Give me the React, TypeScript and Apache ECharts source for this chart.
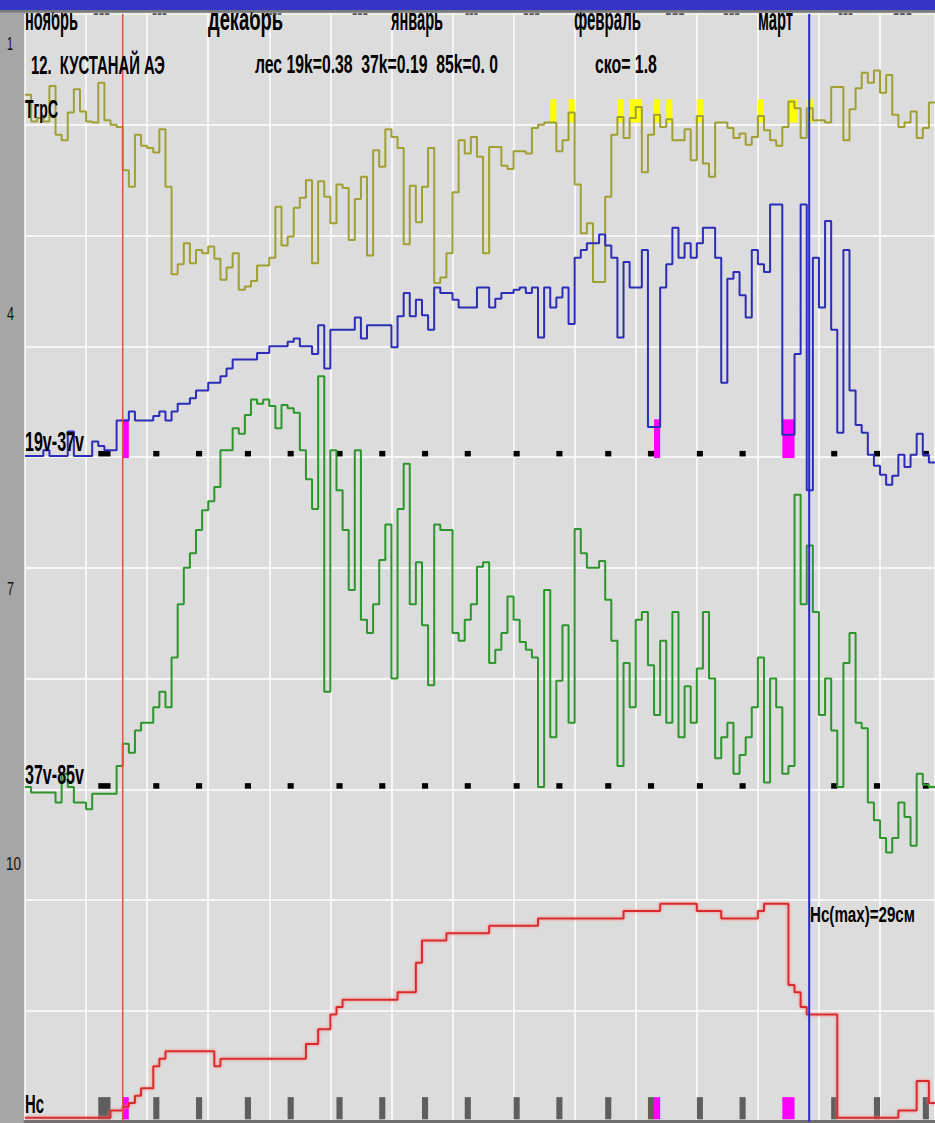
import React, { useEffect, useRef } from 'react';
import * as echarts from 'echarts';

// ---- data (one value per day, day 0 = 1 Nov, 10 days per grid column) ----
const monthLabels = ['ноябрь', 'декабрь', 'январь', 'февраль', 'март'];
const rowLabels = ['1', '4', '7', '10'];

// soil temperature, °C
const tempC = [
  2.7, 0.3, 0.6, 0.3, 3.5, -0.9, -1.4, 1.1, 3.2, 1.2,
  0.3, 0.2, 3.8, 0.4, 0, -0.2, -4.1, -5.6, -0.9, -1.9,
  -2.1, -2.5, -0.4, -5.6, -13.5, -12.6, -10.7, -12.5, -11.3, -11.6,
  -11.0, -12.1, -14.0, -12.9, -11.6, -14.9, -14.6, -14.1, -12.7, -12.7,
  -12.0, -7.4, -10.9, -10.1, -7.5, -6.6, -5.0, -12.5, -5.1, -6.5,
  -8.9, -5.4, -5.7, -10.4, -6.7, -4.7, -11.8, -2.3, -3.8, -0.4,
  -1.1, -2.1, -10.8, -5.5, -8.8, -5.6, -2.1, -14.3, -13.8, -11.6,
  -6.1, -1.4, -2.6, -1.1, -2.9, -11.6, -2.0, -2.0, -3.7, -4.0,
  -2.4, -2.4, -2.6, -0.3, 0, 0.2, 0.2, -2.4, -1.4, 1.1,
  -5.4, -9.8, -8.9, -14.2, -14.2, -6.5, -0.9, 0.7, -1.2, 0.6,
  1.6, -4.3, -0.9, 0.9, -0.2, 0.5, -1.4, -1.4, -0.4, -3.2,
  0.8, -3.5, -4.7, 0.2, 0.2, -0.3, -1.2, -0.8, -1.8, -1.1,
  0.8, -0.5, -1.4, -1.9, -0.2, 2.1, 1.5, -1.2, 1.5, 0.4,
  0.4, 0.2, 3.4, 3.4, -1.4, 1.4, 3.3, 4.7, 3.8, 4.9,
  2.9, 4.5, 0.9, -0.2, 0.2, 1.2, -1.2, -0.3, 2.0,
];

// Tb 19V - 37V, K
const diff19v37v = [
  0.1, 0.1, 0.1, 0.6, 0.1, 0.1, 0.1, 2.3, 0.1, 0.1,
  0.1, 1.4, 1.0, 0.6, 0.6, 3.3, 3.3, 4.1, 3.3, 3.3,
  3.3, 3.7, 4.1, 3.3, 4.1, 4.8, 4.8, 5.3, 6.0, 6.0,
  6.7, 6.7, 7.3, 8.0, 8.8, 8.8, 8.8, 8.8, 9.4, 9.4,
  10.0, 10.0, 10.0, 10.4, 10.7, 10.0, 10.0, 9.3, 11.9, 8.0,
  11.5, 11.5, 11.5, 11.5, 12.6, 10.7, 11.9, 11.9, 11.9, 11.9,
  9.9, 12.7, 14.8, 12.7, 14.2, 12.8, 11.5, 15.3, 14.8, 14.8,
  14.2, 13.5, 13.5, 13.5, 15.3, 15.3, 13.5, 14.3, 14.8, 14.8,
  15.1, 15.3, 14.8, 15.3, 10.8, 15.3, 13.5, 14.4, 15.3, 12.0,
  18.0, 18.7, 19.3, 19.3, 20.1, 19.1, 18.0, 10.8, 17.6, 15.3,
  15.3, 18.7, 2.7, 2.7, 15.3, 17.4, 20.7, 18.0, 19.3, 18.0,
  19.3, 20.7, 20.7, 18.0, 6.7, 16.1, 16.7, 14.6, 12.6, 18.7,
  17.4, 16.7, 22.8, 22.8, 2.0, 2.0, 9.3, 22.8, -3.0, 18.0,
  13.5, 21.3, 11.5, 2.2, 18.7, 6.0, 2.9, 2.2, 0.2, -0.8,
  -1.6, -2.5, -1.7, 0.2, -0.9, 0.2, 2.1, 0.2, -0.5,
];

// Tb 37V - 85V, K
const diff37v85v = [
  0.2, -0.3, -0.3, -0.3, -0.3, -1.2, 1.4, 0.2, -1.2, -1.2,
  -1.8, -0.4, -0.4, -0.4, -0.4, 2.1, 4.1, 3.3, 5.3, 6.0,
  6.0, 7.4, 8.8, 7.4, 11.9, 16.7, 20.0, 21.3, 23.4, 25.2,
  26.0, 27.3, 30.6, 30.6, 32.6, 32.1, 33.8, 35.2, 34.8, 35.2,
  34.6, 32.6, 34.7, 34.4, 34.0, 30.6, 28.0, 25.3, 37.3, 8.8,
  30.6, 27.0, 23.4, 18.0, 30.6, 15.3, 14.1, 16.7, 20.7, 23.9,
  10.0, 25.3, 29.4, 16.7, 20.5, 14.8, 9.4, 23.9, 23.4, 23.4,
  14.1, 13.4, 15.3, 16.7, 20.1, 20.5, 11.4, 12.6, 14.1, 17.4,
  15.3, 13.3, 12.6, 11.9, 0.2, 18.0, 4.7, 9.8, 14.8, 6.0,
  23.5, 21.3, 20.0, 20.0, 20.6, 17.1, 13.4, 2.1, 11.4, 7.4,
  15.3, 16.0, 11.2, 6.7, 13.4, 6.0, 16.0, 4.7, 9.3, 6.0,
  10.9, 16.0, 10.0, 2.8, 4.7, 6.0, 1.4, 3.1, 4.7, 7.4,
  11.9, 0.6, 10.0, 7.4, 1.4, 2.1, 26.6, 16.7, 22.0, 16.0,
  6.7, 10.0, 5.3, 0.2, 11.4, 14.1, 6.0, 5.5, -1.2, -2.8,
  -4.4, -5.7, -4.4, -1.2, -2.5, -5.1, 1.4, 0.4, 0.2,
];

// snow depth Hc, cm
const snowDepth = [
  0, 0, 0, 0, 0, 0, 0, 0, 0, 0,
  0, 0, 0, 0, 1, 1, 1.5, 2, 3, 4,
  4, 7, 8, 9, 9, 9, 9, 9, 9, 9,
  9, 7, 8, 8, 8, 8, 8, 8, 8, 8,
  8, 8, 8, 8, 8, 8, 10, 10, 12, 12,
  14, 15, 16, 16, 16, 16, 16, 16, 16, 16,
  16, 17, 17, 17, 21, 24, 24, 24, 24, 25,
  25, 25, 25, 25, 25, 25, 26, 26, 26, 26,
  26, 26, 26, 26, 27, 27, 27, 27, 27, 27,
  27, 27, 27, 27, 27, 27, 27, 27, 28, 28,
  28, 28, 28, 28, 29, 29, 29, 29, 29, 29,
  28, 28, 28, 28, 27, 27, 27, 27, 27, 27,
  28, 29, 29, 29, 29, 18, 17, 15, 14, 14,
  14, 14, 14, 0, 0, 0, 0, 0, 0, 0,
  0, 0, 0, 1, 1, 1, 5, 5, 2,
];

// observation days (start, end)
const obsDays = [
  [12, 14], [21, 22], [28, 29], [36, 37], [43, 44], [51, 52], [58, 59], [65, 66], [72, 73],
  [80, 81], [87, 88], [95, 96], [102, 103], [110, 111], [117, 118], [132, 133], [139, 140], [147, 148],
];
const wetSnowDays = [[16, 17], [103, 104], [124, 126]];
const thawDays = [
  [86, 87], [89, 90], [97, 98], [99, 101], [103, 104], [105, 106], [110, 111], [120, 121], [125, 126.5], [128, 129],
];
const snowOnsetDay = 16;
const snowMaxDay = 128.4;
const DAYS = 149;

// ---- helpers ----
const FONT = '"Liberation Sans", Arial, sans-serif';
let measureCtx: CanvasRenderingContext2D | null = null;
function textWidth(font: string, t: string) {
  if (!measureCtx) measureCtx = document.createElement('canvas').getContext('2d');
  measureCtx!.font = font;
  return measureCtx!.measureText(t).width;
}
function label(text: string, left: number, right: number, baseline: number, size: number, fill = '#000', weight = 'bold') {
  const font = `${weight} ${size}px ${FONT}`;
  const w = textWidth(font, text);
  return {
    type: 'text',
    x: left,
    y: baseline - 0.3465 * size,
    scaleX: (right - left) / w,
    z: 90,
    silent: true,
    style: { text, font, fill, textAlign: 'left', verticalAlign: 'middle', textVerticalAlign: 'middle' },
  };
}

const stepPts = (arr: number[]) => {
  const pts = arr.map((v, i) => [i, v]);
  pts.push([arr.length, arr[arr.length - 1]]);
  return pts;
};

function rectSeries(ranges: number[][], lo: number, hi: number, color: string, yAxisIndex: number) {
  return {
    type: 'custom',
    yAxisIndex,
    silent: true,
    data: ranges.map(([a, b]) => [a, b, lo, hi]),
    encode: { x: [0, 1], y: [2, 3] },
    renderItem: (_p: any, api: any) => {
      const p0 = api.coord([api.value(0), api.value(3)]);
      const p1 = api.coord([api.value(1), api.value(2)]);
      return {
        type: 'rect',
        shape: { x: p0[0], y: p0[1], width: p1[0] - p0[0], height: p1[1] - p0[1] },
        style: { fill: color },
      };
    },
  };
}

function vLineSeries(day: number, color: string, width: number) {
  return {
    type: 'custom',
    yAxisIndex: 0,
    silent: true,
    z: 5,
    data: [[day]],
    encode: { x: 0 },
    renderItem: (_p: any, api: any) => {
      const a = api.coord([api.value(0), 0]);
      const b = api.coord([api.value(0), 10]);
      return { type: 'line', shape: { x1: a[0], y1: a[1], x2: b[0], y2: b[1] }, style: { stroke: color, lineWidth: width } };
    },
  };
}

function lineSeries(arr: number[], yAxisIndex: number, color: string, extra: any = {}) {
  return {
    type: 'line',
    yAxisIndex,
    data: stepPts(arr),
    step: 'end',
    symbol: 'none',
    silent: true,
    z: 3,
    lineStyle: { color, width: 2, ...extra },
  };
}

function buildOption() {
  const monthSpans = [[25, 78], [208, 283], [391, 443], [574, 641], [758, 793]];
  const tickSpans = [[93, 110], [152, 167], [268, 282], [352, 368], [465, 478], [523, 540], [665, 685], [723, 740], [838, 853], [893, 912]];
  const rowLabelPos = [[7, 13, 50], [7, 14, 320], [7, 14, 595], [6, 21, 870]];

  const graphics: any[] = [];
  monthLabels.forEach((m, i) => graphics.push(label(m, monthSpans[i][0], monthSpans[i][1], 30, 31)));
  tickSpans.forEach(([a, b]) => graphics.push(label('---', a, b, 18, 14, '#555')));
  rowLabels.forEach((t, i) => graphics.push(label(t, rowLabelPos[i][0], rowLabelPos[i][1], rowLabelPos[i][2], 18, '#111', 'normal')));
  graphics.push(label('12.  КУСТАНАЙ АЭ', 31, 165, 74, 26));
  graphics.push(label('лес 19k=0.38  37k=0.19  85k=0. 0', 255, 498, 74, 26));
  graphics.push(label('ско= 1.8', 595, 657, 74, 26));
  graphics.push(label('ТгрС', 25, 58, 118, 26));
  graphics.push(label('19v-37v', 25, 84, 451, 28));
  graphics.push(label('37v-85v', 25, 84, 784, 28));
  graphics.push(label('Hc', 25, 44, 1113, 25));
  graphics.push(label('Hc(max)=29см', 810, 915, 922, 22));
  graphics.push({ type: 'rect', z: 100, silent: true, shape: { x: 0, y: 0, width: 935, height: 10 }, style: { fill: '#3434c6' } });
  graphics.push({ type: 'rect', z: 100, silent: true, shape: { x: 0, y: 10, width: 935, height: 2.5 }, style: { fill: '#7a7a7a' } });

  const hiddenY = (min: number, max: number) => ({ type: 'value', min, max, show: false, splitLine: { show: false } });

  return {
    animation: false,
    backgroundColor: '#a6a6a6',
    grid: { left: 25, right: 0, top: 14, bottom: 1.5, show: true, backgroundColor: '#dcdcdc', borderWidth: 0 },
    xAxis: {
      type: 'value', min: 0, max: DAYS, interval: 10,
      axisLabel: { show: false }, axisTick: { show: false },
      axisLine: { show: true, lineStyle: { color: '#6e6e6e', width: 3 } },
      splitLine: { show: true, lineStyle: { color: '#ffffff', width: 1.5 } },
    },
    yAxis: [
      {
        type: 'value', min: 0, max: 10, interval: 1,
        axisLabel: { show: false }, axisTick: { show: false }, axisLine: { show: false },
        splitLine: { show: true, lineStyle: { color: '#ffffff', width: 1.5 } },
      },
      hiddenY(-90, 10),   // soil temperature
      hiddenY(-60, 40),   // 19V-37V
      hiddenY(-30, 70),   // 37V-85V
      hiddenY(-0.5, 149.5), // snow depth
    ],
    graphic: { elements: graphics },
    series: [
      rectSeries(thawDays, 0.2, 2.3, '#ffff00', 1),
      rectSeries(wetSnowDays, -0.1, 3.4, '#ff00ff', 2),
      rectSeries(obsDays, 0.05, 0.55, '#000000', 2),
      rectSeries(obsDays, 0.05, 0.55, '#000000', 3),
      rectSeries(obsDays, -0.2, 2.8, '#5e5e5e', 4),
      rectSeries(wetSnowDays, -0.2, 2.8, '#ff00ff', 4),
      lineSeries(tempC, 1, '#a0a032'),
      lineSeries(diff37v85v, 3, '#2c962c'),
      lineSeries(diff19v37v, 2, '#2c2cb8'),
      lineSeries(snowDepth, 4, '#d82c2c', { shadowColor: 'rgba(255,120,120,0.9)', shadowBlur: 3 }),
      vLineSeries(snowOnsetDay, '#e2503e', 1.5),
      vLineSeries(snowMaxDay, '#2424e0', 2),
    ],
  };
}

export default function App() {
  const ref = useRef<HTMLDivElement>(null);
  useEffect(() => {
    document.body.style.margin = '0';
    const chart = echarts.init(ref.current!, null, { renderer: 'svg' });
    chart.setOption(buildOption() as any);
    return () => chart.dispose();
  }, []);
  return <div ref={ref} style={{ position: 'absolute', left: 0, top: 0, width: 935, height: 1123 }} />;
}
